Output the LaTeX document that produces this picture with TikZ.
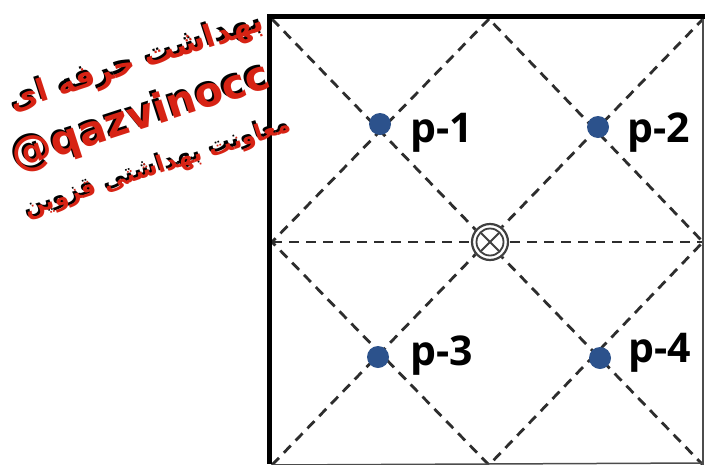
\documentclass[tikz,border=0pt]{standalone}
\usepackage{fontspec}
\usetikzlibrary{calc}
\TeXXeTstate=1
\setmainfont{Open Sans}
\newfontfamily\arabicfont[Script=Arabic]{DejaVu Sans}
\newfontfamily\wmfont{DejaVu Sans}
\definecolor{dotblue}{RGB}{44,82,140}
\definecolor{dashgray}{RGB}{45,45,45}
\definecolor{wmred}{RGB}{215,35,20}
\tikzset{
  grid line/.style={draw=dashgray, line width=2.8pt, dash pattern=on 10pt off 7pt},
  pdot/.style={circle, fill=dotblue, inner sep=0pt, minimum size=22pt},
  plabel/.style={anchor=base west, inner sep=0pt, font=\bfseries\fontsize{41}{41}\selectfont},
  wmred/.style={text=wmred, rotate=18, inner sep=0pt},
  wmblack/.style={text=black, rotate=18, inner sep=0pt},
}
\begin{document}
\begin{tikzpicture}[x=1pt,y=-1pt]
\useasboundingbox (0,0) rectangle (705,464);
\fill[white] (0,0) rectangle (705,464);

% frame corners
\coordinate (TL) at (272,19);
\coordinate (TR) at (703,19);
\coordinate (BL) at (272,465);
\coordinate (BR) at (703,465);
\coordinate (TM) at (489,19);
\coordinate (BM) at (489,465);
\coordinate (LM) at (272,242);
\coordinate (RM) at (703,242);

% dashed grid
\draw[grid line] (TL) -- (BR);
\draw[grid line] (BL) -- (TR);
\draw[grid line] (LM) -- (RM);
\draw[grid line] (TM) -- (LM) -- (BM) -- (RM) -- cycle;

% frame
\draw[line width=1.5pt, draw=black!70] (TR) -- (BR);
\draw[line width=1.5pt, draw=black!70] (BL) -- (703,463);
\draw[line width=5.5pt, line cap=rect] (269.5,16.5) -- (705,16.5);
\draw[line width=5.5pt] (269.5,16.5) -- (269.5,464);

% center symbol
\node[circle, fill=white, minimum size=38pt, inner sep=0pt] (C) at (490,242) {};
\draw[line width=2.2pt, draw=black!75] (C.center) circle[radius=18pt];
\draw[line width=1.8pt, draw=black!75] (C.center) circle[radius=13.5pt];
\draw[line width=1.8pt, draw=black!75] ($(C.center)+(-9,-9)$) -- ($(C.center)+(9,9)$);
\draw[line width=1.8pt, draw=black!75] ($(C.center)+(-9,9)$) -- ($(C.center)+(9,-9)$);

% points
\node[pdot] (p1) at (380,124) {};
\node[pdot] (p2) at (598,127) {};
\node[pdot] (p3) at (378,357) {};
\node[pdot] (p4) at (600,358) {};
\node[plabel] (l1) at (410,142) {p-1};
\node[plabel] (l2) at (627,142) {p-2};
\node[plabel] (l3) at (410,365) {p-3};
\node[plabel] (l4) at (628,362) {p-4};

% watermark
\foreach \dx/\dy/\st in {-2.2/-2.2/wmblack, 0/0/wmred} {
  \node[\st] at ($(137,63)+(\dx,\dy)$) {\arabicfont\bfseries\fontsize{31}{31}\selectfont\beginR بهداشت حرفه ای\endR};
  \node[\st] at ($(141,118)+(\dx,\dy)$) {\wmfont\bfseries\fontsize{41}{41}\selectfont @qazvinocc};
  \node[\st] at ($(158,168)+(\dx,\dy)$) {\arabicfont\bfseries\fontsize{23.5}{23.5}\selectfont\beginR معاونت بهداشتی قزوین\endR};
}
\end{tikzpicture}
\end{document}
